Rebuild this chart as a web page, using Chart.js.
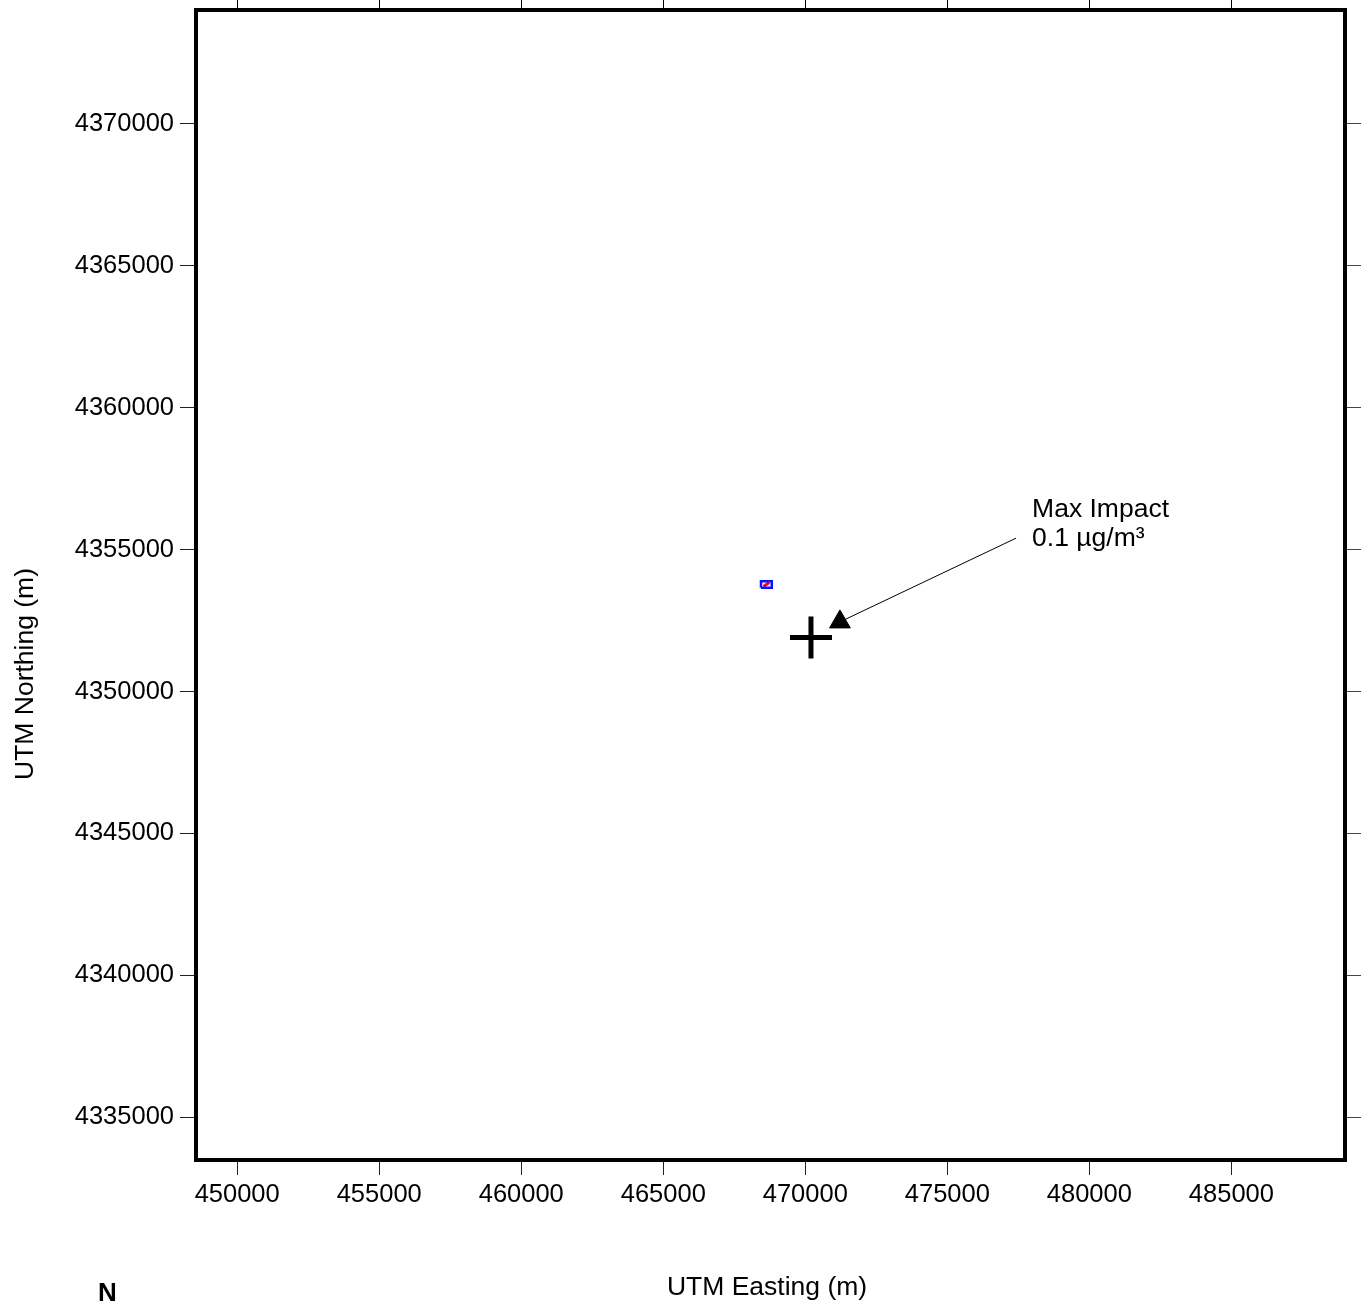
<!DOCTYPE html>
<html>
<head>
<meta charset="utf-8">
<title>Max Impact - UTM</title>
<script src="https://cdn.jsdelivr.net/npm/chart.js@4.4.1/dist/chart.umd.min.js"></script>
<style>
  html, body { margin: 0; padding: 0; background: #ffffff; overflow: hidden; }
  #wrap { width: 1364px; height: 1301px; position: relative; }
  canvas { display: block; }
</style>
</head>
<body>
<div id="wrap"><canvas id="chart" width="1364" height="1301"></canvas></div>
<script>
// Axis ranges and tick values (UTM metres)
const xRange = [448550, 489000];
const yRange = [4333500, 4374000];
const xTicks = [450000, 455000, 460000, 465000, 470000, 475000, 480000, 485000];
const yTicks = [4335000, 4340000, 4345000, 4350000, 4355000, 4360000, 4365000, 4370000];

// Location of the maximum modelled impact
const maxImpactX = [470200];
const maxImpactY = [4351900];
const maxImpactLabel = ['Max Impact', '0.1 µg/m³'];

// Leader line from the label to the impact marker
const leaderX = [477420, 471220];
const leaderY = [4355400, 4352450];

// Facility footprint and emission source
const facilityX = [468440, 468820, 468820, 468440, 468440];
const facilityY = [4353650, 4353650, 4353880, 4353880, 4353650];
const stackX = [468530, 468730];
const stackY = [4353700, 4353840];

const axisTitles = { x: 'UTM Easting (m)', y: 'UTM Northing (m)' };
const northLabel = 'N';

const FONT = 'Liberation Sans, Arial, Helvetica, sans-serif';
const toPoints = (xs, ys) => xs.map((x, i) => ({ x: x, y: ys[i] }));

const fixedTicks = (vals) => (scale) => { scale.ticks = vals.map(v => ({ value: v })); };

// Fix an axis box size and drop the label overhang padding so the plot frame lands exactly
const fixBox = (prop, size) => (s) => {
  s[prop] = size;
  s.paddingTop = 0; s.paddingBottom = 0; s.paddingLeft = 0; s.paddingRight = 0;
};

// Frame, axis titles, annotation text and the north marker
const decorations = {
  id: 'decorations',
  afterDatasetsDraw(chart) {
    const { ctx, chartArea: a } = chart;
    ctx.save();
    ctx.strokeStyle = '#000';
    ctx.lineWidth = 4;
    ctx.strokeRect(a.left, a.top, a.right - a.left, a.bottom - a.top);
    ctx.restore();
  },
  afterDraw(chart) {
    const { ctx, scales } = chart;
    ctx.save();
    ctx.fillStyle = '#000';

    // annotation text next to the leader line tail
    const tx = scales.x.getPixelForValue(leaderX[0]);
    const ty = scales.y.getPixelForValue(leaderY[0]);
    ctx.font = '26.5px ' + FONT;
    ctx.textAlign = 'left';
    ctx.textBaseline = 'alphabetic';
    ctx.fillText(maxImpactLabel[0], tx + 16, ty - 21);
    ctx.fillText(maxImpactLabel[1], tx + 16, ty + 8);

    // axis titles
    ctx.font = '26.5px ' + FONT;
    ctx.textAlign = 'center';
    ctx.fillText(axisTitles.x, 767, 1295);
    ctx.save();
    ctx.translate(33, 674);
    ctx.rotate(-Math.PI / 2);
    ctx.textBaseline = 'alphabetic';
    ctx.fillText(axisTitles.y, 0, 0);
    ctx.restore();

    // north marker
    ctx.font = 'bold 26px ' + FONT;
    ctx.textAlign = 'left';
    ctx.fillText(northLabel, 98, 1301);
    ctx.restore();
  }
};

const tickFont = { family: FONT, size: 25.5 };

new Chart(document.getElementById('chart'), {
  type: 'scatter',
  data: {
    datasets: [
      {
        label: 'Facility',
        data: toPoints(facilityX, facilityY),
        showLine: true,
        borderColor: '#1010ff',
        borderWidth: 2.5,
        backgroundColor: 'rgba(0,0,0,0)',
        pointRadius: 0,
        fill: false
      },
      {
        label: 'Source',
        data: toPoints(stackX, stackY),
        showLine: true,
        borderColor: '#ff0000',
        borderWidth: 3,
        pointRadius: 0
      },
      {
        label: 'Leader',
        data: toPoints(leaderX, leaderY),
        showLine: true,
        borderColor: '#000',
        borderWidth: 1,
        pointRadius: [0, 12],
        pointStyle: 'triangle',
        pointBackgroundColor: '#000',
        pointBorderColor: '#000',
        pointBorderWidth: 1
      },
      {
        label: 'Max Impact',
        data: toPoints(maxImpactX, maxImpactY),
        pointStyle: 'cross',
        pointRadius: 21,
        pointBorderWidth: 5,
        pointBorderColor: '#000',
        pointBackgroundColor: '#000'
      }
    ]
  },
  options: {
    responsive: false,
    animation: false,
    devicePixelRatio: 1,
    layout: { padding: 0, autoPadding: false },
    plugins: { legend: { display: false }, tooltip: { enabled: false }, title: { display: false } },
    events: [],
    scales: {
      x: {
        type: 'linear', position: 'bottom',
        min: xRange[0], max: xRange[1],
        afterBuildTicks: fixedTicks(xTicks),
        afterFit: fixBox('height', 141),
        border: { display: false },
        grid: { drawOnChartArea: false, drawTicks: true, tickLength: 15, color: '#222', lineWidth: 1 },
        ticks: { font: tickFont, color: '#000', padding: 5, maxRotation: 0, autoSkip: false, callback: (v) => String(v) }
      },
      y: {
        type: 'linear', position: 'left',
        min: yRange[0], max: yRange[1],
        afterBuildTicks: fixedTicks(yTicks),
        afterFit: fixBox('width', 196),
        border: { display: false },
        grid: { drawOnChartArea: false, drawTicks: true, tickLength: 16, color: '#222', lineWidth: 1 },
        ticks: { font: tickFont, color: '#000', padding: 6, autoSkip: false, callback: (v) => String(v) }
      },
      x2: {
        type: 'linear', position: 'top',
        min: xRange[0], max: xRange[1],
        afterBuildTicks: fixedTicks(xTicks),
        afterFit: fixBox('height', 10),
        border: { display: false },
        grid: { drawOnChartArea: false, drawTicks: true, tickLength: 10, color: '#000', lineWidth: 1 },
        ticks: { display: false }
      },
      y2: {
        type: 'linear', position: 'right',
        min: yRange[0], max: yRange[1],
        afterBuildTicks: fixedTicks(yTicks),
        afterFit: fixBox('width', 19),
        border: { display: false },
        grid: { drawOnChartArea: false, drawTicks: true, tickLength: 16, color: '#444', lineWidth: 1 },
        ticks: { display: false }
      }
    }
  },
  plugins: [decorations]
});
</script>
</body>
</html>
